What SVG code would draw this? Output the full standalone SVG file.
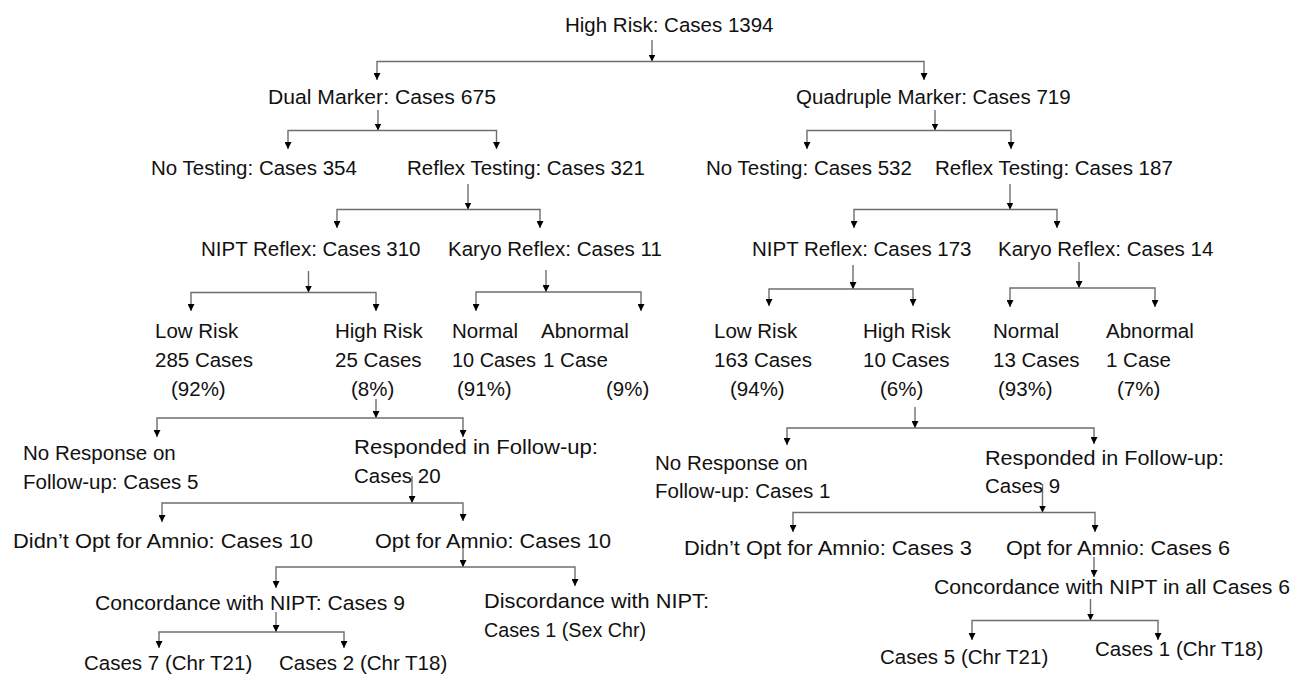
<svg xmlns="http://www.w3.org/2000/svg" width="1296" height="675" viewBox="0 0 1296 675">
<defs>
<style>
text { font-family: "Liberation Sans", Arial, sans-serif; font-size: 20.5px; fill: #111; }
.c { fill: none; stroke: #6e6e6e; stroke-width: 1.4; }
.a { marker-end: url(#ah); }
.b { marker-start: url(#ah); marker-end: url(#ah); }
</style>
<marker id="ah" viewBox="0 0 8 8" refX="8" refY="4" markerWidth="7" markerHeight="7" markerUnits="userSpaceOnUse" orient="auto-start-reverse">
<path d="M0,0 L8,4 L0,8 z" fill="#000"/>
</marker>
</defs>
<rect width="1296" height="675" fill="#fff"/>
<g id="connectors">
<path class="c a" d="M652,40 V61.5"/>
<path class="c b" d="M377,80 V61.5 H924 V80"/>
<path class="c a" d="M378,110 V130.5"/>
<path class="c b" d="M288,149 V130.5 H496.5 V149"/>
<path class="c a" d="M935,110 V130.5"/>
<path class="c b" d="M807,149 V130.5 H1011 V149"/>
<path class="c a" d="M468,184 V209.5"/>
<path class="c b" d="M337,228 V209.5 H540 V228"/>
<path class="c a" d="M1010,184 V209.5"/>
<path class="c b" d="M854,228 V209.5 H1057 V228"/>
<path class="c a" d="M308.5,271 V292.5"/>
<path class="c b" d="M191,311 V292.5 H376 V311"/>
<path class="c a" d="M546,270 V292"/>
<path class="c b" d="M476,311 V292 H641 V311"/>
<path class="c a" d="M853,265 V289"/>
<path class="c b" d="M769,306 V289 H913 V306"/>
<path class="c a" d="M1079,262 V288"/>
<path class="c b" d="M1010,307 V288 H1155 V307"/>
<path class="c a" d="M376,399 V418"/>
<path class="c b" d="M157,437 V418 H463 V437"/>
<path class="c a" d="M915,407 V428"/>
<path class="c b" d="M787,445 V428 H1094 V444"/>
<path class="c a" d="M412,476 V503"/>
<path class="c b" d="M162,522 V503 H463 V521"/>
<path class="c a" d="M1042.5,484 V512.5"/>
<path class="c b" d="M793,532 V512.5 H1095 V532"/>
<path class="c a" d="M463,540 V567"/>
<path class="c b" d="M276,588 V567 H575 V586"/>
<path class="c a" d="M276,612 V632"/>
<path class="c b" d="M159,648 V632 H344 V648"/>
<path class="c a" d="M1094,557 V577"/>
<path class="c a" d="M1090.5,599 V620.5"/>
<path class="c b" d="M972,640 V620.5 H1158 V640"/>
</g>
<g id="n-root"><text x="565" y="32">High Risk: Cases 1394</text></g>
<g id="n-dual"><text x="268" y="104" textLength="228" lengthAdjust="spacingAndGlyphs">Dual Marker: Cases 675</text></g>
<g id="n-quad"><text x="796" y="104">Quadruple Marker: Cases 719</text></g>
<g id="n-l-notest"><text x="151" y="175">No Testing: Cases 354</text></g>
<g id="n-l-reflex"><text x="407" y="175">Reflex Testing: Cases 321</text></g>
<g id="n-r-notest"><text x="706" y="175">No Testing: Cases 532</text></g>
<g id="n-r-reflex"><text x="935" y="175">Reflex Testing: Cases 187</text></g>
<g id="n-l-nipt"><text x="201" y="256">NIPT Reflex: Cases 310</text></g>
<g id="n-l-karyo"><text x="448" y="256">Karyo Reflex: Cases 11</text></g>
<g id="n-r-nipt"><text x="752" y="256">NIPT Reflex: Cases 173</text></g>
<g id="n-r-karyo"><text x="998" y="256">Karyo Reflex: Cases 14</text></g>
<g id="n-l-low"><text x="155" y="338">Low Risk</text><text x="155" y="367">285 Cases</text><text x="171" y="396">(92%)</text></g>
<g id="n-l-high"><text x="335" y="338">High Risk</text><text x="335" y="367">25 Cases</text><text x="351" y="396">(8%)</text></g>
<g id="n-l-normal"><text x="452" y="338">Normal</text><text x="452" y="367" textLength="84" lengthAdjust="spacingAndGlyphs">10 Cases</text><text x="457" y="396">(91%)</text></g>
<g id="n-l-abnormal"><text x="541" y="338">Abnormal</text><text x="543" y="367">1 Case</text><text x="606" y="396">(9%)</text></g>
<g id="n-r-low"><text x="714" y="338">Low Risk</text><text x="714" y="367">163 Cases</text><text x="730" y="396">(94%)</text></g>
<g id="n-r-high"><text x="863" y="338">High Risk</text><text x="863" y="367">10 Cases</text><text x="880" y="396">(6%)</text></g>
<g id="n-r-normal"><text x="993" y="338">Normal</text><text x="993" y="367">13 Cases</text><text x="998" y="396">(93%)</text></g>
<g id="n-r-abnormal"><text x="1106" y="338">Abnormal</text><text x="1106" y="367">1 Case</text><text x="1117" y="396">(7%)</text></g>
<g id="n-l-noresp"><text x="23" y="460">No Response on</text><text x="23" y="489">Follow-up: Cases 5</text></g>
<g id="n-l-resp"><text x="354" y="454" textLength="244" lengthAdjust="spacingAndGlyphs">Responded in Follow-up:</text><text x="354" y="483">Cases 20</text></g>
<g id="n-r-noresp"><text x="655" y="470">No Response on</text><text x="655" y="498">Follow-up: Cases 1</text></g>
<g id="n-r-resp"><text x="985" y="465" textLength="239" lengthAdjust="spacingAndGlyphs">Responded in Follow-up:</text><text x="985" y="493">Cases 9</text></g>
<g id="n-l-didnt"><text x="13" y="548" textLength="300" lengthAdjust="spacingAndGlyphs">Didn’t Opt for Amnio: Cases 10</text></g>
<g id="n-l-opt"><text x="375" y="548" textLength="236" lengthAdjust="spacingAndGlyphs">Opt for Amnio: Cases 10</text></g>
<g id="n-r-didnt"><text x="684" y="555" textLength="288" lengthAdjust="spacingAndGlyphs">Didn’t Opt for Amnio: Cases 3</text></g>
<g id="n-r-opt"><text x="1006" y="555" textLength="224" lengthAdjust="spacingAndGlyphs">Opt for Amnio: Cases 6</text></g>
<g id="n-l-conc"><text x="95" y="610" textLength="310" lengthAdjust="spacingAndGlyphs">Concordance with NIPT: Cases 9</text></g>
<g id="n-l-disc"><text x="484" y="608" textLength="225" lengthAdjust="spacingAndGlyphs">Discordance with NIPT:</text><text x="484" y="637" textLength="162" lengthAdjust="spacingAndGlyphs">Cases 1 (Sex Chr)</text></g>
<g id="n-r-conc"><text x="934" y="594" textLength="356" lengthAdjust="spacingAndGlyphs">Concordance with NIPT in all Cases 6</text></g>
<g id="n-l-t21"><text x="84" y="670">Cases 7 (Chr T21)</text></g>
<g id="n-l-t18"><text x="279" y="670">Cases 2 (Chr T18)</text></g>
<g id="n-r-t21"><text x="880" y="664">Cases 5 (Chr T21)</text></g>
<g id="n-r-t18"><text x="1095" y="656">Cases 1 (Chr T18)</text></g>
</svg>
